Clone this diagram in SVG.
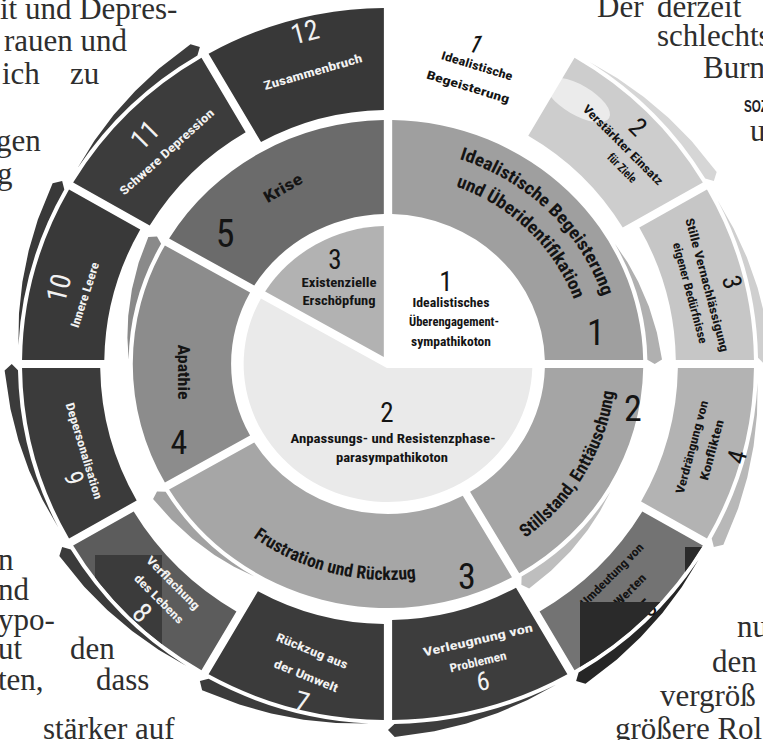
<svg xmlns="http://www.w3.org/2000/svg" width="763" height="740" viewBox="0 0 763 740">
<style>
.bk{font-family:"Liberation Serif","Times New Roman",serif;font-size:31px;fill:#2e2e2e}
.t{font-family:"Liberation Sans Narrow","Arial Narrow","Roboto Condensed","Liberation Sans",sans-serif;font-weight:bold;text-anchor:middle}
.c{dominant-baseline:central}
.n{font-weight:normal}
.w{fill:#f2f2f2}
.k{fill:#141414}
</style>
<defs>
<path id="oA" d="M4,-355.98 A356,356 0 0 1 174.53,-310.29 L123.52,-221.95 A254,254 0 0 0 4,-253.97 Z"/>
<path id="oB" d="M4,-355.98 A356,356 0 0 1 174.53,-310.29 L124.52,-223.68 A256,256 0 0 0 4,-255.97 Z"/>
<path id="oC" d="M4,-355.98 A356,356 0 0 1 174.53,-310.29 L126.52,-227.14 A260,260 0 0 0 4,-259.97 Z"/>
<path id="oD" d="M4,-355.98 A356,356 0 0 1 174.53,-310.29 L129.52,-232.34 A266,266 0 0 0 4,-265.97 Z"/>
<path id="oE" d="M4,-355.98 A356,356 0 0 1 174.53,-310.29 L131.52,-235.8 A270,270 0 0 0 4,-269.97 Z"/>
<path id="oF" d="M4,-355.98 A356,356 0 0 1 174.53,-310.29 L134.52,-241 A276,276 0 0 0 4,-275.97 Z"/>
<path id="oG" d="M4,-355.98 A356,356 0 0 1 174.53,-310.29 L136.52,-244.46 A280,280 0 0 0 4,-279.97 Z"/>
<path id="oH" d="M4,-355.98 A356,356 0 0 1 174.53,-310.29 L137.52,-246.19 A282,282 0 0 0 4,-281.97 Z"/>
<path id="oI" d="M4,-355.98 A356,356 0 0 1 174.53,-310.29 L140.52,-251.39 A288,288 0 0 0 4,-287.97 Z"/>
<path id="ocr" d="M18.84,-359.51 A360,360 0 0 1 174.53,-314.86 L183,-316.97 L180.83,-326.23 L144.57,-340.59 L113.56,-349.51 L82.11,-355.65 L50.45,-358.97 Z"/>
<path id="m90" d="M4,-243.97 A244,244 0 0 1 243.97,-4 L149.95,-4 A150,150 0 0 0 4,-149.95 Z"/>
<path id="m60" d="M4,-243.97 A244,244 0 0 1 209.28,-125.45 L127.86,-78.44 A150,150 0 0 0 4,-149.95 Z"/>
<path id="mcr" d="M4.33,-247.96 A248,248 0 0 1 120.23,-216.91 L127.5,-220.84 L127.02,-229.15 L101.2,-238.41 L74.85,-244.81 L48.27,-248.35 L26.18,-249.13 Z"/>
<clipPath id="clip5"><use href="#oI" transform="translate(388 364) scale(1.028 1) rotate(120)"/></clipPath>
<clipPath id="clip8"><use href="#oI" transform="translate(388 364) scale(1.028 1) rotate(210)"/></clipPath>
<path id="arc1a" d="M388,148 A225.9,216 0 0 1 613.87,367.77"/>
<path id="arc1b" d="M388,175 A197.7,189 0 0 1 585.67,367.3"/>
<path id="arc2" d="M502,552.79 A228,218 0 0 0 616,364"/>
<path id="arc3" d="M192.36,472 A225.9,216 0 0 0 500.95,551.06"/>
</defs>
<rect width="763" height="740" fill="#ffffff"/>

<g id="page-text">
<text class="bk" x="0" y="19">it und Depres-</text>
<text class="bk" x="4" y="51">rauen und</text>
<text class="bk" x="2" y="84">ich</text>
<text class="bk" x="70" y="84">zu</text>
<text class="bk" x="-4" y="151">gen</text>
<text class="bk" x="-3" y="184">g</text>
<text class="bk" x="-2" y="570">n</text>
<text class="bk" x="-2" y="600">nd</text>
<text class="bk" x="-2" y="630">ypo-</text>
<text class="bk" x="-2" y="659">ut</text>
<text class="bk" x="70" y="659">den</text>
<text class="bk" x="-2" y="690">ten,</text>
<text class="bk" x="96" y="690">dass</text>
<text class="bk" x="43" y="739">stärker</text>
<text class="bk" x="135" y="739">auf</text>
<text class="bk" x="597" y="17">Der</text>
<text class="bk" x="657" y="17">derzeit</text>
<text class="bk" x="657" y="46">schlechts</text>
<text class="bk" x="703" y="78">Burne</text>
<text x="744" y="112" font-family="Liberation Sans,sans-serif" font-weight="bold" font-size="16" fill="#1e1e28" textLength="24" lengthAdjust="spacingAndGlyphs">SOZ</text>
<text class="bk" x="750" y="141">u</text>
<text class="bk" x="737" y="637">nu</text>
<text class="bk" x="712" y="672">den</text>
<text class="bk" x="660" y="706">vergröß</text>
<text class="bk" x="615" y="739">größere Rol</text>
</g>

<g id="pie-1">
<text class="t c n k" font-size="27" transform="translate(446 282)">1</text>
<text class="t c k" font-size="12" textLength="77" lengthAdjust="spacingAndGlyphs" transform="translate(451 303)">Idealistisches</text>
<text class="t c k" font-size="12" textLength="90" lengthAdjust="spacingAndGlyphs" transform="translate(454 322)">Überengagement-</text>
<text class="t c k" font-size="12" textLength="80" lengthAdjust="spacingAndGlyphs" transform="translate(451 342)">sympathikoton</text>
</g>
<g id="pie-2">
<path d="M4,1.07 L4,-137.94 A138,138 0 1 1 -65.51,121.46 Z" transform="translate(388 364) scale(1.046 1) rotate(90)" fill="#eaeaea"/>
<text class="t c n k" font-size="27" transform="translate(387 413)">2</text>
<text class="t c k" font-size="12" textLength="205" lengthAdjust="spacingAndGlyphs" transform="translate(393 439)">Anpassungs- und Resistenzphase-</text>
<text class="t c k" font-size="12" textLength="112" lengthAdjust="spacingAndGlyphs" transform="translate(392 458)">parasympathikoton</text>
</g>
<g id="pie-3">
<path d="M4,-6.93 L4,-137.94 A138,138 0 0 1 117.46,-72.43 Z" transform="translate(388 364) scale(1.046 1) rotate(300)" fill="#b2b2b2"/>
<text class="t c n k" font-size="27" transform="translate(335 260)">3</text>
<text class="t c k" font-size="12" textLength="75" lengthAdjust="spacingAndGlyphs" transform="translate(339 283)">Existenzielle</text>
<text class="t c k" font-size="12" textLength="73" lengthAdjust="spacingAndGlyphs" transform="translate(339 301)">Erschöpfung</text>
</g>

<g id="phase-1">
<use href="#m90" transform="translate(388 364) scale(1.046 1)" fill="#9f9f9f"/>
<use href="#mcr" transform="translate(388 364) scale(1.046 1) rotate(60)" fill="#b0b0b0"/>
<text class="t k" font-size="18"><textPath href="#arc1a" startOffset="50%" textLength="206" lengthAdjust="spacingAndGlyphs">Idealistische Begeisterung</textPath></text>
<text class="t k" font-size="18"><textPath href="#arc1b" startOffset="50%" textLength="169" lengthAdjust="spacingAndGlyphs">und Überidentifikation</textPath></text>
<text class="t c n k" font-size="36" transform="translate(596 333)">1</text>
</g>
<g id="phase-2">
<use href="#m60" transform="translate(388 364) scale(1.046 1) rotate(90)" fill="#a5a5a5"/>
<use href="#mcr" transform="translate(388 364) scale(1.046 1) rotate(120)" fill="#bebebe"/>
<text class="t k" font-size="18"><textPath href="#arc2" startOffset="50%" textLength="176" lengthAdjust="spacingAndGlyphs">Stillstand, Enttäuschung</textPath></text>
<text class="t c n k" font-size="36" transform="translate(633 409)">2</text>
</g>
<g id="phase-3">
<use href="#m90" transform="translate(388 364) scale(1.046 1) rotate(150)" fill="#a6a6a6"/>
<use href="#mcr" transform="translate(388 364) scale(1.046 1) rotate(210)" fill="#a2a2a2"/>
<text class="t k" font-size="18"><textPath href="#arc3" startOffset="50%" textLength="172" lengthAdjust="spacingAndGlyphs">Frustration und Rückzug</textPath></text>
<text class="t c n k" font-size="36" transform="translate(467 577)">3</text>
</g>
<g id="phase-4">
<use href="#m60" transform="translate(388 364) scale(1.046 1) rotate(240)" fill="#8c8c8c"/>
<use href="#mcr" transform="translate(388 364) scale(1.046 1) rotate(270)" fill="#8a8a8a"/>
<text class="t c k" font-size="16" textLength="55" lengthAdjust="spacingAndGlyphs" transform="translate(183 372) rotate(90)">Apathie</text>
<text class="t c n k" font-size="34" transform="translate(179 442)">4</text>
</g>
<g id="phase-5">
<use href="#m60" transform="translate(388 364) scale(1.046 1) rotate(300)" fill="#6b6b6b"/>
<text class="t c k" font-size="16" textLength="42" lengthAdjust="spacingAndGlyphs" transform="translate(283 188) rotate(-30)">Krise</text>
<text class="t c n k" font-size="38" transform="translate(225 234)">5</text>
</g>

<g id="stage-1">
<text class="t c n k" font-size="26" font-style="italic" transform="translate(476 44) rotate(17)">1</text>
<text class="t c k" font-size="12" textLength="74" lengthAdjust="spacingAndGlyphs" transform="translate(477 66) rotate(17)">Idealistische</text>
<text class="t c k" font-size="12" textLength="86" lengthAdjust="spacingAndGlyphs" transform="translate(468 87) rotate(17)">Begeisterung</text>
</g>
<g id="stage-2">
<use href="#oD" transform="translate(388 364) scale(1.028 1) rotate(30)" fill="#cdcdcd"/>
<use href="#ocr" transform="translate(388 364) scale(1.028 1) rotate(30)" fill="#d6d6d6"/>
<ellipse cx="578" cy="100" rx="36" ry="15" fill="#ffffff" opacity="0.6" transform="rotate(30 578 100)"/>
<text class="t c n k" font-size="26" transform="translate(638 127) rotate(45)">2</text>
<text class="t c k" font-size="12" textLength="108" lengthAdjust="spacingAndGlyphs" transform="translate(623 145) rotate(45)">Verstärkter Einsatz</text>
<text class="t c k" font-size="12" textLength="36" lengthAdjust="spacingAndGlyphs" transform="translate(622 168) rotate(45)">für Ziele</text>
</g>
<g id="stage-3">
<use href="#oG" transform="translate(388 364) scale(1.028 1) rotate(60)" fill="#c6c6c6"/>
<use href="#ocr" transform="translate(388 364) scale(1.028 1) rotate(60)" fill="#cfcfcf"/>
<text class="t c n k" font-size="26" transform="translate(732 282) rotate(75)">3</text>
<text class="t c k" font-size="12" textLength="138" lengthAdjust="spacingAndGlyphs" transform="translate(707 285) rotate(75)">Stille Vernachlässigung</text>
<text class="t c k" font-size="12" textLength="104" lengthAdjust="spacingAndGlyphs" transform="translate(690 293) rotate(75)">eigener Bedürfnisse</text>
</g>
<g id="stage-4">
<use href="#oH" transform="translate(388 364) scale(1.028 1) rotate(90)" fill="#b3b3b3"/>
<use href="#ocr" transform="translate(388 364) scale(1.028 1) rotate(90)" fill="#b8b8b8"/>
<text class="t c k" font-size="12" textLength="96" lengthAdjust="spacingAndGlyphs" transform="translate(692 447) rotate(-75)">Verdrängung von</text>
<text class="t c k" font-size="12" textLength="62" lengthAdjust="spacingAndGlyphs" transform="translate(712 450) rotate(-75)">Konflikten</text>
<text class="t c n k" font-size="26" transform="translate(737 457) rotate(-75)">4</text>
</g>
<g id="stage-5">
<use href="#oI" transform="translate(388 364) scale(1.028 1) rotate(120)" fill="#737373"/>
<use href="#ocr" transform="translate(388 364) scale(1.028 1) rotate(120)" fill="#262626"/>
<text class="t c k" font-size="12" textLength="84" lengthAdjust="spacingAndGlyphs" transform="translate(612 575) rotate(-45)">Umdeutung von</text>
<text class="t c k" font-size="12" textLength="40" lengthAdjust="spacingAndGlyphs" transform="translate(630 590) rotate(-45)">Werten</text>
<text class="t c n k" font-size="26" transform="translate(648 608) rotate(-45)">5</text>
<g clip-path="url(#clip5)" fill="#2a2a2a">
<rect x="580" y="602" width="108" height="70"/>
<rect x="685" y="547" width="30" height="58"/>
</g>
</g>
<g id="stage-6">
<use href="#oB" transform="translate(388 364) scale(1.028 1) rotate(150)" fill="#3d3d3d"/>
<use href="#ocr" transform="translate(388 364) scale(1.028 1) rotate(150)" fill="#3d3d3d"/>
<text class="t c w" font-size="12" textLength="112" lengthAdjust="spacingAndGlyphs" transform="translate(478 640) rotate(-13)">Verleugnung von</text>
<text class="t c w" font-size="12" textLength="58" lengthAdjust="spacingAndGlyphs" transform="translate(478 662) rotate(-13)">Problemen</text>
<text class="t c n w" font-size="26" transform="translate(483 681) rotate(-10)">6</text>
</g>
<g id="stage-7">
<use href="#oC" transform="translate(388 364) scale(1.028 1) rotate(180)" fill="#3b3b3b"/>
<use href="#ocr" transform="translate(388 364) scale(1.028 1) rotate(180)" fill="#3b3b3b"/>
<text class="t c w" font-size="12" textLength="76" lengthAdjust="spacingAndGlyphs" transform="translate(312 651) rotate(22)">Rückzug aus</text>
<text class="t c w" font-size="12" textLength="68" lengthAdjust="spacingAndGlyphs" transform="translate(306 676) rotate(22)">der Umwelt</text>
<text class="t c n w" font-size="28" transform="translate(302 702) rotate(15)">7</text>
</g>
<g id="stage-8">
<use href="#oI" transform="translate(388 364) scale(1.028 1) rotate(210)" fill="#5c5c5c"/>
<use href="#ocr" transform="translate(388 364) scale(1.028 1) rotate(210)" fill="#3b3b3b"/>
<rect x="95" y="555" width="67" height="100" fill="#3b3b3b" clip-path="url(#clip8)"/>
<text class="t c w" font-size="12" textLength="70" lengthAdjust="spacingAndGlyphs" transform="translate(173 583) rotate(45)">Verflachung</text>
<text class="t c w" font-size="12" textLength="64" lengthAdjust="spacingAndGlyphs" transform="translate(159 599) rotate(45)">des Lebens</text>
<text class="t c n w" font-size="28" transform="translate(142 613) rotate(45)">8</text>
</g>
<g id="stage-9">
<use href="#oG" transform="translate(388 364) scale(1.028 1) rotate(240)" fill="#3b3b3b"/>
<use href="#ocr" transform="translate(388 364) scale(1.028 1) rotate(240)" fill="#3b3b3b"/>
<text class="t c w" font-size="12" textLength="100" lengthAdjust="spacingAndGlyphs" transform="translate(84 451) rotate(73)">Depersonalisation</text>
<text class="t c n w" font-size="26" transform="translate(74 478) rotate(73)">9</text>
</g>
<g id="stage-10">
<use href="#oF" transform="translate(388 364) scale(1.028 1) rotate(270)" fill="#393939"/>
<use href="#ocr" transform="translate(388 364) scale(1.028 1) rotate(270)" fill="#393939"/>
<text class="t c n w" font-size="28" transform="translate(59 288) rotate(-76)">10</text>
<text class="t c w" font-size="12" textLength="68" lengthAdjust="spacingAndGlyphs" transform="translate(85 295) rotate(-72)">Innere Leere</text>
</g>
<g id="stage-11">
<use href="#oE" transform="translate(388 364) scale(1.028 1) rotate(300)" fill="#3c3c3c"/>
<use href="#ocr" transform="translate(388 364) scale(1.028 1) rotate(300)" fill="#3c3c3c"/>
<text class="t c n w" font-size="28" transform="translate(145 135) rotate(-45)">11</text>
<text class="t c w" font-size="12" textLength="122" lengthAdjust="spacingAndGlyphs" transform="translate(167 152) rotate(-42)">Schwere Depression</text>
</g>
<g id="stage-12">
<use href="#oA" transform="translate(388 364) scale(1.028 1) rotate(330)" fill="#383838"/>
<text class="t c n w" font-size="28" transform="translate(305 32) rotate(-15)">12</text>
<text class="t c w" font-size="12" textLength="102" lengthAdjust="spacingAndGlyphs" transform="translate(313 72) rotate(-16)">Zusammenbruch</text>
</g>
<g id="connectors"></g>
</svg>
